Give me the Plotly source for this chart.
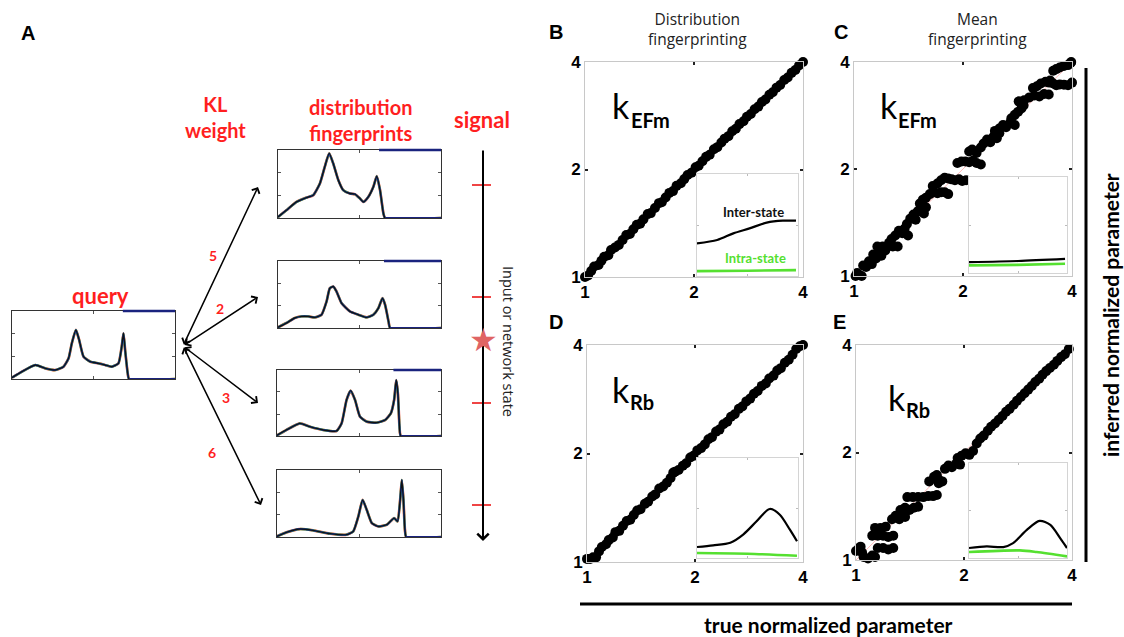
import numpy as np
import plotly.graph_objects as go

W, H = 1124, 637

# ---------------- data ----------------
# Panel A: histogram fingerprints (bin position %, normalised density)
query_x = [0, 6.1, 14.3, 20.4, 26.5, 31.6, 34.7, 36.7, 39.2, 41.2, 43.9, 48, 53.1, 57.1, 61.2, 65.3, 67.3, 68.4, 69.4, 71, 71.8, 100]
query_y = [0.02, 0.108, 0.206, 0.157, 0.132, 0.181, 0.304, 0.525, 0.721, 0.574, 0.328, 0.255, 0.23, 0.206, 0.181, 0.23, 0.475, 0.672, 0.426, 0.083, 0, 0]
fp1_x = [0, 5.1, 11.3, 17.5, 21.6, 25.7, 28.7, 31.4, 33.9, 37, 40, 44.1, 47.2, 50.3, 52.4, 55.4, 58.5, 60.6, 62.6, 64.7, 65.7, 100]
fp1_y = [0.015, 0.113, 0.236, 0.3, 0.335, 0.507, 0.754, 0.95, 0.8, 0.557, 0.41, 0.36, 0.35, 0.286, 0.236, 0.31, 0.458, 0.616, 0.41, 0.064, 0, 0]
fp2_x = [0, 5.1, 10.3, 14.4, 18.5, 22.6, 26.7, 29.8, 31.8, 33.9, 35.9, 39, 44.1, 49.3, 54.4, 58.5, 61.6, 64.1, 65.7, 67.8, 68.8, 100]
fp2_y = [0.01, 0.074, 0.149, 0.173, 0.173, 0.158, 0.198, 0.396, 0.594, 0.619, 0.545, 0.371, 0.248, 0.198, 0.158, 0.198, 0.297, 0.446, 0.347, 0.099, 0, 0]
fp3_x = [0, 5.7, 13.9, 20, 28.2, 36.3, 39.4, 42.4, 44.9, 47.6, 50.6, 54.7, 60.8, 65.9, 69.4, 71.4, 72.7, 73.7, 74.7, 75.5, 100]
fp3_y = [0.01, 0.091, 0.192, 0.141, 0.091, 0.076, 0.192, 0.545, 0.687, 0.545, 0.293, 0.217, 0.202, 0.242, 0.343, 0.545, 0.848, 0.646, 0.141, 0, 0]
fp4_x = [0, 5.7, 13.9, 22, 32.2, 42.4, 46.5, 49.6, 52.2, 54.7, 57.8, 61.8, 67, 71.4, 73.5, 75.1, 76.1, 77.1, 78, 78.8, 100]
fp4_y = [0.01, 0.069, 0.119, 0.099, 0.05, 0.035, 0.084, 0.307, 0.554, 0.406, 0.208, 0.158, 0.183, 0.282, 0.233, 0.554, 0.851, 0.554, 0.109, 0, 0]
hist_top_bar_start = [68, 62, 65, 71, None]
kl_weights = ["5", "2", "3", "6"]

# Panels B-E: true vs inferred normalised parameter
B_x = [1.00, 1.02, 1.04, 1.06, 1.09, 1.11, 1.13, 1.16, 1.18, 1.21, 1.24, 1.27, 1.30, 1.33, 1.36, 1.39, 1.42, 1.45, 1.49, 1.52,
       1.56, 1.60, 1.63, 1.67, 1.71, 1.75, 1.79, 1.84, 1.88, 1.92, 1.97, 2.02, 2.06, 2.11, 2.16, 2.21, 2.27, 2.32, 2.38, 2.43,
       2.49, 2.55, 2.61, 2.67, 2.74, 2.80, 2.87, 2.94, 3.01, 3.08, 3.15, 3.23, 3.30, 3.38, 3.46, 3.55, 3.63, 3.72, 3.81, 3.90, 4.00]
B_y = [1.00, 1.01, 1.04, 1.07, 1.08, 1.11, 1.14, 1.15, 1.19, 1.21, 1.23, 1.27, 1.31, 1.32, 1.36, 1.40, 1.41, 1.45, 1.50, 1.51,
       1.56, 1.61, 1.62, 1.67, 1.72, 1.74, 1.80, 1.83, 1.88, 1.93, 1.96, 2.03, 2.05, 2.11, 2.17, 2.20, 2.28, 2.31, 2.38, 2.44,
       2.48, 2.56, 2.60, 2.68, 2.73, 2.81, 2.86, 2.95, 3.00, 3.09, 3.14, 3.24, 3.29, 3.39, 3.45, 3.56, 3.62, 3.73, 3.80, 3.91, 4.00]
C_x = [1.01, 1.03, 1.05, 1.02, 1.06, 1.08, 1.10, 1.12, 1.13, 1.15, 1.17, 1.19, 1.20, 1.22, 1.16, 1.20, 1.24, 1.28, 1.32,
       1.25, 1.27, 1.30, 1.33, 1.36, 1.38, 1.41, 1.40, 1.43, 1.46, 1.50, 1.53, 1.56, 1.58, 1.48, 1.52, 1.55, 1.58, 1.62, 1.66,
       1.70, 1.74, 1.78, 1.82, 1.65, 1.70, 1.74, 1.78, 1.82, 1.86, 1.90, 1.95, 1.99, 2.04, 1.93, 1.98, 2.03, 2.08, 2.13, 2.18,
       2.24, 2.08, 2.12, 2.18, 2.24, 2.28, 2.33, 2.38, 2.43, 2.48, 2.52, 2.45, 2.52, 2.58, 2.63, 2.70, 2.78, 2.72, 2.78, 2.84,
       2.90, 2.94, 2.85, 2.95, 3.05, 3.15, 3.25, 3.35, 3.45, 3.12, 3.20, 3.28, 3.38, 3.46, 3.48, 3.55, 3.62, 3.70, 3.80, 3.90,
       4.00, 3.55, 3.62, 3.70, 3.80, 3.90, 3.97, 3.98]
C_y = [1.00, 1.01, 1.00, 1.02, 1.07, 1.06, 1.10, 1.08, 1.15, 1.12, 1.17, 1.14, 1.20, 1.18, 1.21, 1.21, 1.21, 1.21, 1.21,
       1.24, 1.27, 1.30, 1.34, 1.32, 1.36, 1.30, 1.40, 1.45, 1.49, 1.52, 1.55, 1.50, 1.56, 1.44, 1.60, 1.64, 1.66, 1.70, 1.72,
       1.71, 1.72, 1.72, 1.70, 1.79, 1.82, 1.86, 1.89, 1.88, 1.87, 1.86, 1.87, 1.85, 1.86, 2.08, 2.10, 2.10, 2.09, 2.11, 2.08,
       2.06, 2.24, 2.27, 2.22, 2.30, 2.36, 2.42, 2.38, 2.47, 2.44, 2.52, 2.56, 2.60, 2.66, 2.62, 2.70, 2.66, 2.78, 2.84, 2.90,
       2.96, 3.02, 3.10, 3.12, 3.18, 3.22, 3.20, 3.25, 3.24, 3.38, 3.42, 3.48, 3.52, 3.50, 3.55, 3.48, 3.44, 3.46, 3.45, 3.44,
       3.50, 3.78, 3.82, 3.86, 3.90, 3.92, 3.98, 4.00]
D_x = [1.00, 1.02, 1.04, 1.06, 1.08, 1.10, 1.13, 1.15, 1.18, 1.20, 1.23, 1.26, 1.29, 1.32, 1.35, 1.38, 1.41, 1.45, 1.48, 1.52,
       1.55, 1.59, 1.63, 1.67, 1.71, 1.74, 1.76, 1.80, 1.85, 1.89, 1.94, 1.98, 2.03, 2.08, 2.13, 2.18, 2.23, 2.29, 2.34, 2.40,
       2.46, 2.52, 2.58, 2.65, 2.71, 2.78, 2.85, 2.92, 2.99, 3.07, 3.15, 3.22, 3.31, 3.39, 3.47, 3.56, 3.65, 3.74, 3.83, 3.92, 4.00]
D_y = [1.02, 1.02, 1.03, 1.03, 1.07, 1.10, 1.12, 1.15, 1.17, 1.21, 1.22, 1.26, 1.30, 1.31, 1.35, 1.39, 1.40, 1.45, 1.47, 1.52,
       1.54, 1.60, 1.62, 1.66, 1.71, 1.77, 1.78, 1.80, 1.85, 1.88, 1.95, 1.97, 2.04, 2.07, 2.12, 2.19, 2.22, 2.30, 2.33, 2.41,
       2.45, 2.53, 2.57, 2.66, 2.70, 2.79, 2.84, 2.93, 2.98, 3.08, 3.13, 3.23, 3.29, 3.40, 3.45, 3.57, 3.64, 3.76, 3.90, 3.97, 4.00]
E_x = [1.00, 1.02, 1.04, 1.03, 1.05, 1.08, 1.11, 1.13, 1.15, 1.19, 1.23, 1.27, 1.11, 1.15, 1.19, 1.23, 1.27, 1.13, 1.17, 1.21,
       1.26, 1.29, 1.32, 1.35, 1.37, 1.33, 1.37, 1.41, 1.45, 1.49, 1.39, 1.44, 1.49, 1.54, 1.59, 1.64, 1.68, 1.60, 1.65, 1.68,
       1.70, 1.70, 1.74, 1.77, 1.81, 1.85, 1.90, 1.95, 1.92, 1.97, 2.02, 2.07, 2.12, 2.17, 2.22, 2.27, 2.33, 2.38, 2.44, 2.50,
       2.56, 2.62, 2.68, 2.75, 2.81, 2.88, 2.95, 3.02, 3.09, 3.16, 3.24, 3.31, 3.39, 3.47, 3.56, 3.64, 3.73, 3.82, 3.92]
E_y = [1.06, 1.08, 1.05, 1.09, 1.02, 1.01, 1.03, 1.02, 1.08, 1.08, 1.07, 1.08, 1.17, 1.17, 1.17, 1.16, 1.17, 1.23, 1.23, 1.24,
       1.30, 1.33, 1.30, 1.35, 1.32, 1.38, 1.40, 1.38, 1.40, 1.41, 1.50, 1.50, 1.50, 1.50, 1.51, 1.51, 1.52, 1.66, 1.71, 1.73,
       1.64, 1.68, 1.66, 1.80, 1.84, 1.82, 1.86, 1.85, 1.93, 1.96, 1.99, 1.97, 2.02, 2.12, 2.19, 2.23, 2.30, 2.36, 2.41, 2.47,
       2.53, 2.60, 2.65, 2.72, 2.79, 2.86, 2.93, 3.00, 3.07, 3.15, 3.22, 3.30, 3.38, 3.45, 3.52, 3.61, 3.70, 3.77, 3.90]
identity = [1, 4]
param_ticks = [1, 2, 4]

# insets: inter-state (black) and intra-state (green) curves
B_inter_x = [0, 0.2, 0.36, 0.52, 0.69, 0.85, 0.98]
B_inter_y = [0.32, 0.353, 0.418, 0.467, 0.523, 0.542, 0.542]
B_intra_x = [0, 0.5, 0.98]
B_intra_y = [0.048, 0.052, 0.058]
C_inter_x = [0, 0.5, 0.98]
C_inter_y = [0.113, 0.125, 0.147]
C_intra_x = [0, 0.5, 0.98]
C_intra_y = [0.079, 0.085, 0.096]
D_inter_x = [0, 0.16, 0.33, 0.46, 0.59, 0.72, 0.82, 0.92, 0.99]
D_inter_y = [0.11, 0.127, 0.153, 0.237, 0.367, 0.49, 0.433, 0.283, 0.167]
D_intra_x = [0, 0.5, 0.99]
D_intra_y = [0.05, 0.043, 0.023]
E_inter_x = [0, 0.18, 0.35, 0.45, 0.59, 0.72, 0.83, 0.93, 1.0]
E_inter_y = [0.105, 0.122, 0.115, 0.157, 0.296, 0.39, 0.348, 0.209, 0.105]
E_intra_x = [0, 0.52, 0.69, 1.0]
E_intra_y = [0.063, 0.08, 0.063, 0.017]

# ---------------- helpers ----------------
def px(x):
    return x / W

def py(y):
    return 1 - y / H

fig = go.Figure()
layout = dict(width=W, height=H, margin=dict(l=0, r=0, t=0, b=0, pad=0, autoexpand=False),
              paper_bgcolor="white", plot_bgcolor="white", showlegend=False)
annotations = []
shapes = []

def set_axes(i, box, xkw, ykw):
    l, t, r, b = box
    sx = "" if i == 1 else str(i)
    layout["xaxis" + sx] = dict(domain=[px(l), px(r)], anchor="y" + sx, showgrid=False, zeroline=False, **xkw)
    layout["yaxis" + sx] = dict(domain=[py(b), py(t)], anchor="x" + sx, showgrid=False, zeroline=False, **ykw)
    return ("x" + sx, "y" + sx)

RED = "#ff1f1f"
NAVY = "#1a237e"
TXT = "Lato"

# ---------------- Panel A: histograms ----------------
hist_boxes = [(12, 311, 175, 379), (278, 150, 441, 218), (278, 261, 441, 328), (277, 370, 441, 436), (277, 470, 441, 537)]
hist_data = [(query_x, query_y), (fp1_x, fp1_y), (fp2_x, fp2_y), (fp3_x, fp3_y), (fp4_x, fp4_y)]
hax = dict(range=[0, 100], showline=True, linecolor="#333", linewidth=1.3, mirror="ticks",
           ticks="inside", ticklen=3, tickcolor="#555", tickvals=[50], showticklabels=False, layer="below traces")
hay = dict(range=[0, 1], showline=True, linecolor="#333", linewidth=1.3, mirror="ticks",
           ticks="inside", ticklen=3, tickcolor="#555", tickvals=[0.333, 0.667], showticklabels=False, layer="below traces")
idx = 1
for box, (hx, hy), bar in zip(hist_boxes, hist_data, hist_top_bar_start):
    xa, ya = set_axes(idx, box, dict(hax), dict(hay))
    for col, wd in [("#ff4040", 2.7), ("#30c030", 2.3), ("#2848d8", 1.9), ("#111111", 1.4)]:
        fig.add_trace(go.Scatter(x=hx, y=hy, xaxis=xa, yaxis=ya, mode="lines",
                                 line=dict(color=col, width=wd, shape="spline", smoothing=0.5), hoverinfo="skip"))
    fig.add_trace(go.Scatter(x=hx[-2:], y=hy[-2:], xaxis=xa, yaxis=ya, mode="lines",
                             line=dict(color=NAVY, width=2), hoverinfo="skip"))
    if bar is not None:
        shapes.append(dict(type="line", xref=xa, yref=ya + " domain", x0=bar, x1=100, y0=1, y1=1,
                           line=dict(color=NAVY, width=2.5), layer="above"))
    idx += 1

# ---------------- Panels B-E: scatter + insets ----------------
logr = [0, np.log10(4)]
sax = dict(type="log", range=logr, showline=True, linecolor="#c8c8c8", linewidth=1, mirror="ticks",
           ticks="inside", ticklen=3, tickwidth=2, tickcolor="#222", tickvals=param_ticks,
           ticktext=[str(v) for v in param_ticks],
           tickfont=dict(family="Liberation Sans", size=17, color="black", weight="bold"))
iax = dict(range=[0, 1], showline=True, linecolor="#d4d4d4", linewidth=1, mirror="ticks",
           ticks="inside", ticklen=2, tickcolor="#bbb", tickvals=[0.5], showticklabels=False)
iay = dict(range=[0, 1], showline=True, linecolor="#d4d4d4", linewidth=1, mirror="ticks",
           ticks="inside", ticklen=2, tickcolor="#bbb", tickvals=[0.5], showticklabels=False)

panels = [
    ((585, 62, 803, 277), (697, 174, 798, 276), B_x, B_y, False, B_inter_x, B_inter_y, B_intra_x, B_intra_y),
    ((854, 62, 1072, 276), (969, 177, 1067, 273), C_x, C_y, True, C_inter_x, C_inter_y, C_intra_x, C_intra_y),
    ((587, 345, 803, 562), (697, 458, 798, 558), D_x, D_y, False, D_inter_x, D_inter_y, D_intra_x, D_intra_y),
    ((856, 345, 1072, 560), (969, 463, 1067, 558), E_x, E_y, True, E_inter_x, E_inter_y, E_intra_x, E_intra_y),
]
for box, ibox, sxv, syv, ident, ix1, iy1, ix2, iy2 in panels:
    xa, ya = set_axes(idx, box, dict(sax), dict(sax))
    idx += 1
    if ident:
        fig.add_trace(go.Scatter(x=identity, y=identity, xaxis=xa, yaxis=ya, mode="lines",
                                 line=dict(color="rgba(255,110,110,0.6)", width=0.8), hoverinfo="skip"))
    fig.add_trace(go.Scatter(x=sxv, y=syv, xaxis=xa, yaxis=ya, mode="markers", cliponaxis=False,
                             marker=dict(color="black", size=10, line=dict(width=0)), hoverinfo="skip"))
    xa, ya = set_axes(idx, ibox, dict(iax), dict(iay))
    idx += 1
    fig.add_trace(go.Scatter(x=ix1, y=iy1, xaxis=xa, yaxis=ya, mode="lines",
                             line=dict(color="black", width=2.2, shape="spline", smoothing=0.8), hoverinfo="skip"))
    fig.add_trace(go.Scatter(x=ix2, y=iy2, xaxis=xa, yaxis=ya, mode="lines",
                             line=dict(color="#55e030", width=2.6, shape="spline", smoothing=0.8), hoverinfo="skip"))

# ---------------- annotations / decorations ----------------
def text(x, y, s, size, color="black", family=TXT, bold=False, angle=0):
    annotations.append(dict(x=px(x), y=py(y), xref="paper", yref="paper", text=s, showarrow=False,
                            xanchor="center", yanchor="middle", textangle=angle, borderpad=0,
                            font=dict(family=family, size=size, color=color, weight="bold" if bold else "normal")))

def arrow(x0, y0, x1, y1, both=False, width=1.5):
    # arrow from pixel point (x0, y0) to (x1, y1); offsets given in screen pixels
    d = dict(x=px(x1), y=py(y1), xref="paper", yref="paper", axref="pixel", ayref="pixel",
             ax=x0 - x1, ay=y0 - y1, text="", showarrow=True, arrowhead=4, arrowsize=1.1,
             arrowwidth=width, arrowcolor="black", standoff=0)
    if both:
        d.update(arrowside="end+start", startarrowhead=4, startarrowsize=1.1, startstandoff=0)
    annotations.append(d)

# panel letters
for lx, ly, s in [(28, 33, "A"), (556, 32, "B"), (841, 32, "C"), (556, 322, "D"), (839, 322, "E")]:
    text(lx, ly, s, 20, family="Liberation Sans", bold=True)

# panel A titles (two-line titles wrapped inside one text each)
text(100, 295, "query", 22, RED, bold=True)
text(215, 117, "KL<br>weight", 20, RED, bold=True)
text(360, 120, "distribution<br>fingerprints", 20, RED, bold=True)
text(482, 119, "signal", 22, RED, bold=True)
for (lx, ly), s in zip([(213, 255), (220, 308), (226, 397), (212, 452)], kl_weights):
    text(lx, ly, s, 14, RED, bold=True)
text(508, 341, "Input or network state", 14.5, "#222", family="Open Sans", angle=90)

# arrows from query to fingerprints
for ex, ey in [(258, 187), (258, 297), (258, 403), (261, 505)]:
    arrow(183, 346, ex, ey, both=True)
# signal axis
arrow(483, 149, 483, 541, width=2)
for ty in [185, 297, 403, 505]:
    shapes.append(dict(type="line", xref="paper", yref="paper", x0=px(472), x1=px(491), y0=py(ty), y1=py(ty),
                       line=dict(color="#ee3030", width=1.8)))
text(483, 340, "★", 32, "#e06464", family="DejaVu Sans")

# column titles
text(697, 29, "Distribution<br>fingerprinting", 15.5, "#222", family="Open Sans")
text(977, 29, "Mean<br>fingerprinting", 15.5, "#222", family="Open Sans")

# parameter names
for kx, ky, sub_x, sub_y, sub in [(621, 106, 650, 120, "EFm"), (889, 106, 917, 120, "EFm"),
                                  (621, 389, 642, 402, "Rb"), (897, 397, 918, 410, "Rb")]:
    text(kx, ky, "k", 34, "black")
    text(sub_x, sub_y, sub, 20, "black", bold=True)

# inset labels
text(753, 212, "Inter-state", 13, "#111", bold=True)
text(755, 258, "Intra-state", 13, "#55e030", bold=True)

# axis titles with bars
shapes.append(dict(type="line", xref="paper", yref="paper", x0=px(580), x1=px(1072), y0=py(604), y1=py(604),
                   line=dict(color="black", width=3)))
shapes.append(dict(type="line", xref="paper", yref="paper", x0=px(1086), x1=px(1086), y0=py(68), y1=py(562),
                   line=dict(color="black", width=3)))
text(828, 624, "true normalized parameter", 21, "black", bold=True)
text(1110, 315, "inferred normalized parameter", 21, "black", bold=True, angle=-90)

layout["annotations"] = annotations
layout["shapes"] = shapes
fig.update_layout(**layout)
fig.write_html("out.html", config={"displayModeBar": False},
               post_script="document.documentElement.style.margin='0';document.body.style.margin='0';"
                           "document.body.style.overflow='hidden';document.documentElement.style.overflow='hidden';")
